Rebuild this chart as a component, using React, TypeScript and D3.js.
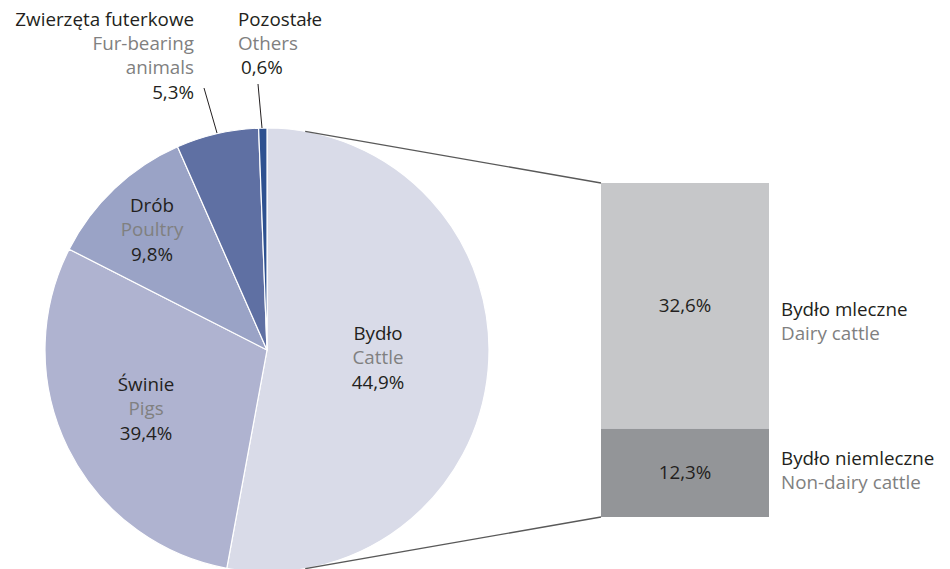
import React from "react";
import * as d3 from "d3";

const sliceKeys = ["cattle", "pigs", "poultry", "fur", "others"];
const sliceShare = [52.9, 29.6, 10.9, 6.0, 0.6]; // angular share
const slicePolish = ["Bydło", "Świnie", "Drób", "Zwierzęta futerkowe", "Pozostałe"];
const sliceEnglish = ["Cattle", "Pigs", "Poultry", "Fur-bearing animals", "Others"];
const sliceLabel = ["44,9%", "39,4%", "9,8%", "5,3%", "0,6%"];
const sliceColors = ["#d9dbe8", "#afb3d0", "#9aa3c6", "#5f70a3", "#2e5190"];

const barPolish = ["Bydło mleczne", "Bydło niemleczne"];
const barEnglish = ["Dairy cattle", "Non-dairy cattle"];
const barLabel = ["32,6%", "12,3%"];
const barShare = [73.6, 26.4];
const barColors = ["#c6c7c9", "#939598"];

const W = 950;
const H = 569;
const FONT = "'Open Sans', 'Noto Sans', sans-serif";
const DARK = "#231f20";
const GREY = "#808080";

function tangent(px: number, py: number, cx: number, cy: number, r: number, sign: number) {
  const dx = cx - px, dy = cy - py;
  const d = Math.hypot(dx, dy);
  const base = Math.atan2(dy, dx);
  const a = base + sign * Math.asin(r / d);
  const len = Math.sqrt(d * d - r * r);
  return [px + len * Math.cos(a), py + len * Math.sin(a)];
}

export default function App() {
  const cx = 267, cy = 350, r = 222;
  const pie = d3.pie<number>().sort(null).value((d) => d).startAngle(0).endAngle(2 * Math.PI);
  const arcs = pie(sliceShare);
  const arcGen = d3.arc<d3.PieArcDatum<number>>().innerRadius(0).outerRadius(r);

  const barX = 601, barW = 168, barTop = 183, barBottom = 517;
  const y = d3.scaleLinear().domain([0, d3.sum(barShare)]).range([barTop, barBottom]);
  let acc = 0;
  const bars = barShare.map((v, i) => {
    const y0 = y(acc);
    acc += v;
    return { y0, y1: y(acc), i };
  });

  const t1 = tangent(barX, barTop, cx, cy, r, 1);
  const t2 = tangent(barX, barBottom, cx, cy, r, -1);

  const lh = 24;
  const labelPos: Record<string, { x: number; y: number }> = {
    cattle: { x: 378, y: 340 },
    pigs: { x: 146, y: 391 },
    poultry: { x: 152, y: 212 },
  };

  return (
    <div style={{ position: "absolute", left: 0, top: 0 }}>
      <svg width={W} height={H} style={{ display: "block" }} fontFamily={FONT} fontSize={18.8}>
        <rect width={W} height={H} fill="#ffffff" />
        <g transform={`translate(${cx},${cy})`}>
          {arcs.map((a, i) => (
            <path key={sliceKeys[i]} d={arcGen(a) || ""} fill={sliceColors[i]} stroke="#ffffff" strokeWidth={1.2} />
          ))}
        </g>
        <line x1={t1[0]} y1={t1[1]} x2={barX} y2={barTop} stroke="#595959" strokeWidth={1.3} />
        <line x1={t2[0]} y1={t2[1]} x2={barX} y2={barBottom} stroke="#595959" strokeWidth={1.3} />
        {bars.map((b) => (
          <rect key={b.i} x={barX} y={b.y0} width={barW} height={b.y1 - b.y0} fill={barColors[b.i]} />
        ))}
        {bars.map((b) => (
          <text key={"bl" + b.i} x={barX + barW / 2} y={(b.y0 + b.y1) / 2 + 6} textAnchor="middle" fill={DARK}>
            {barLabel[b.i]}
          </text>
        ))}
        {bars.map((b) => (
          <g key={"bt" + b.i}>
            <text x={781} y={b.i === 0 ? 316 : 465} fill={DARK}>{barPolish[b.i]}</text>
            <text x={781} y={b.i === 0 ? 340 : 489} fill={GREY}>{barEnglish[b.i]}</text>
          </g>
        ))}
        {["cattle", "pigs", "poultry"].map((k) => {
          const i = sliceKeys.indexOf(k);
          const p = labelPos[k];
          return (
            <g key={"l" + k}>
              <text x={p.x} y={p.y} textAnchor="middle" fill={DARK}>{slicePolish[i]}</text>
              <text x={p.x} y={p.y + lh} textAnchor="middle" fill={GREY}>{sliceEnglish[i]}</text>
              <text x={p.x} y={p.y + lh * 2 + 1} textAnchor="middle" fill={DARK}>{sliceLabel[i]}</text>
            </g>
          );
        })}
        {/* Fur-bearing animals */}
        <g>
          <text x={194} y={26} textAnchor="end" fill={DARK}>{slicePolish[3]}</text>
          <text x={194} y={50} textAnchor="end" fill={GREY}>{sliceEnglish[3].split(" ")[0]}</text>
          <text x={194} y={74} textAnchor="end" fill={GREY}>{sliceEnglish[3].split(" ")[1]}</text>
          <text x={194} y={99} textAnchor="end" fill={DARK}>{sliceLabel[3]}</text>
          <line x1={204} y1={88} x2={217} y2={133} stroke={DARK} strokeWidth={1} />
        </g>
        {/* Others */}
        <g>
          <text x={238} y={26} fill={DARK}>{slicePolish[4]}</text>
          <text x={238} y={50} fill={GREY}>{sliceEnglish[4]}</text>
          <text x={241} y={74} fill={DARK}>{sliceLabel[4]}</text>
          <line x1={258} y1={84} x2={262} y2={128} stroke={DARK} strokeWidth={1} />
        </g>
      </svg>
    </div>
  );
}
